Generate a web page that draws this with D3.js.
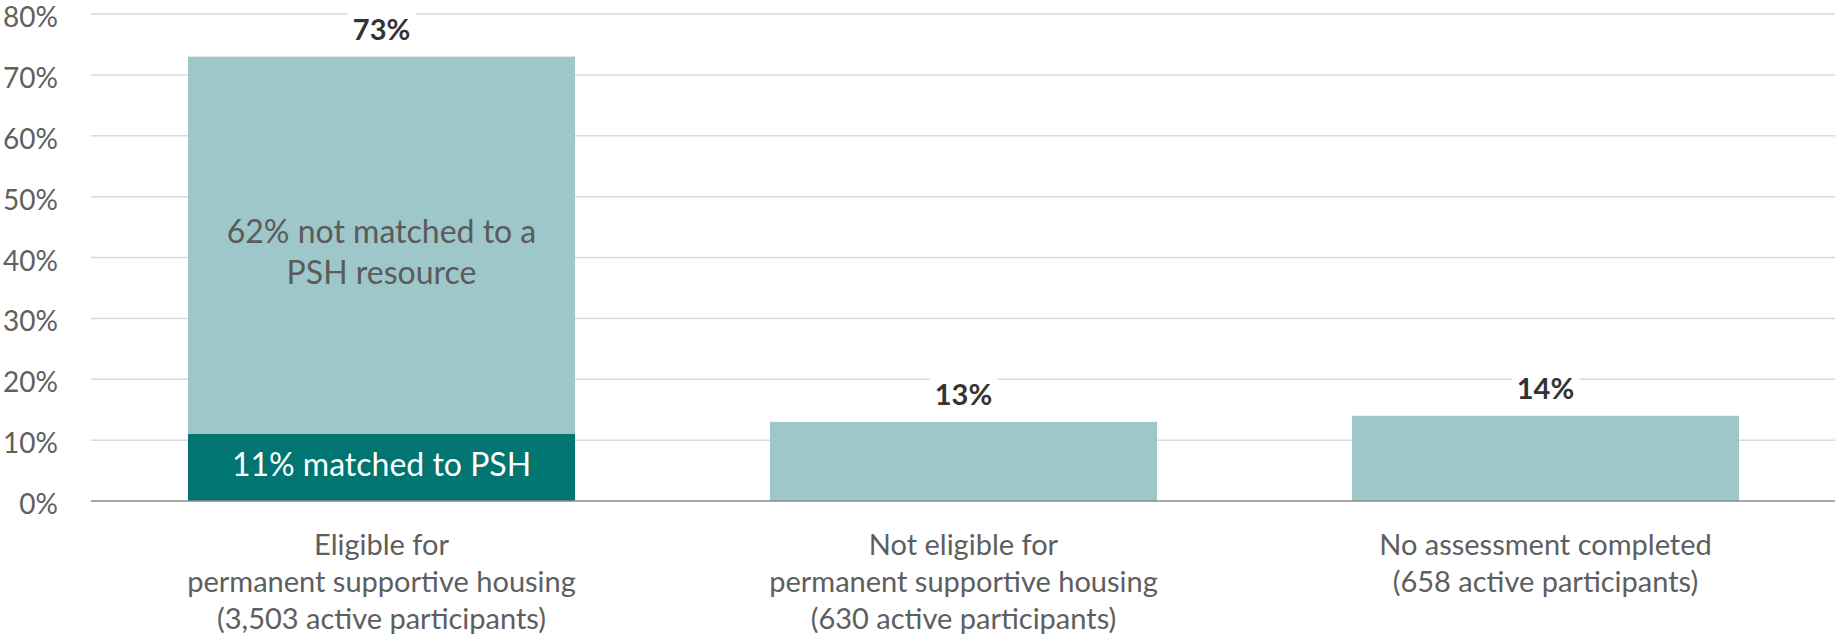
<!DOCTYPE html>
<html><head><meta charset="utf-8">
<script src="https://cdn.jsdelivr.net/npm/d3@7"></script>
<style>
body{margin:0;background:#fff;}
text{font-family:Lato,"Noto Sans",sans-serif;}
</style></head>
<body><svg id="c" width="1835" height="643"></svg>
<script>
const categories = ["eligible","not_eligible","no_assessment"];
const categoryLabels = [
  ["Eligible for","permanent supportive housing","(3,503 active participants)"],
  ["Not eligible for","permanent supportive housing","(630 active participants)"],
  ["No assessment completed","(658 active participants)"]
];
const matchedValues = [11, 0, 0];
const otherValues = [62, 13, 14];
const totalLabels = ["73%","13%","14%"];
const otherSegmentLabel = ["62% not matched to a","PSH resource"];
const matchedSegmentLabel = "11% matched to PSH";
const yTicks = [0,10,20,30,40,50,60,70,80];

const W = 1835;
const svg = d3.select("#c");
const x = d3.scaleBand().domain(categories).range([91,1836]).paddingInner(0.335).paddingOuter(0.1667);
const y = d3.scaleLinear().domain([0,80]).range([501,14]);

// gridlines
svg.append("g").selectAll("line").data(yTicks.filter(d=>d>0)).join("line")
  .attr("x1",91).attr("x2",W).attr("y1",d=>y(d)).attr("y2",d=>y(d))
  .attr("stroke","#dadada").attr("stroke-width",1.5);

// y axis
const ya = svg.append("g").attr("transform","translate(58,0)")
  .call(d3.axisLeft(y).tickValues(yTicks).tickFormat(d=>d+"%").tickSize(0).tickPadding(0));
ya.select(".domain").remove();
ya.selectAll("text").attr("font-size",28).attr("fill","#606060")
  .attr("font-family","Lato").attr("dy","0.45em");

const data = categories.map((c,i)=>({c, m:matchedValues[i], o:otherValues[i], t:totalLabels[i]}));

svg.selectAll("rect.other").data(data).join("rect").attr("class","other")
  .attr("x",d=>x(d.c)).attr("width",x.bandwidth())
  .attr("y",d=>y(d.m+d.o)).attr("height",d=>y(d.m)-y(d.m+d.o))
  .attr("fill","#9dc7c8");
svg.selectAll("rect.matched").data(data.filter(d=>d.m>0)).join("rect").attr("class","matched")
  .attr("x",d=>x(d.c)).attr("width",x.bandwidth())
  .attr("y",d=>y(d.m)).attr("height",d=>y(0)-y(d.m))
  .attr("fill","#007571");

// baseline
svg.append("line").attr("x1",91).attr("x2",W).attr("y1",y(0)).attr("y2",y(0))
  .attr("stroke","#8a8a8a").attr("stroke-width",1.5);

// total labels with white knockout behind
const tl = svg.selectAll("g.tl").data(data).join("g").attr("class","tl")
  .attr("transform",d=>`translate(${x(d.c)+x.bandwidth()/2},${y(d.m+d.o)-17})`);
tl.append("rect").attr("x",-34).attr("y",-28).attr("width",68).attr("height",37).attr("fill","#fff");
tl.append("text").attr("text-anchor","middle").attr("font-size",29).attr("font-weight",700)
  .attr("fill","#333").text(d=>d.t);

// segment labels in first bar
const cx0 = x(categories[0])+x.bandwidth()/2;
svg.append("text").attr("text-anchor","middle").attr("font-size",32).attr("fill","#5b5b5b")
  .selectAll("tspan").data(otherSegmentLabel).join("tspan")
  .attr("x",cx0).attr("y",(d,i)=>243+i*41).text(d=>d);
svg.append("text").attr("x",cx0).attr("y",476).attr("text-anchor","middle")
  .attr("font-size",32).attr("fill","#fff").text(matchedSegmentLabel);

// category labels
categories.forEach((c,i)=>{
  const t = svg.append("text").attr("text-anchor","middle").attr("font-size",29).attr("fill","#5e5e5e");
  t.selectAll("tspan").data(categoryLabels[i]).join("tspan")
    .attr("x",x(c)+x.bandwidth()/2).attr("y",(d,j)=>555+j*37).text(d=>d);
});
</script></body></html>
